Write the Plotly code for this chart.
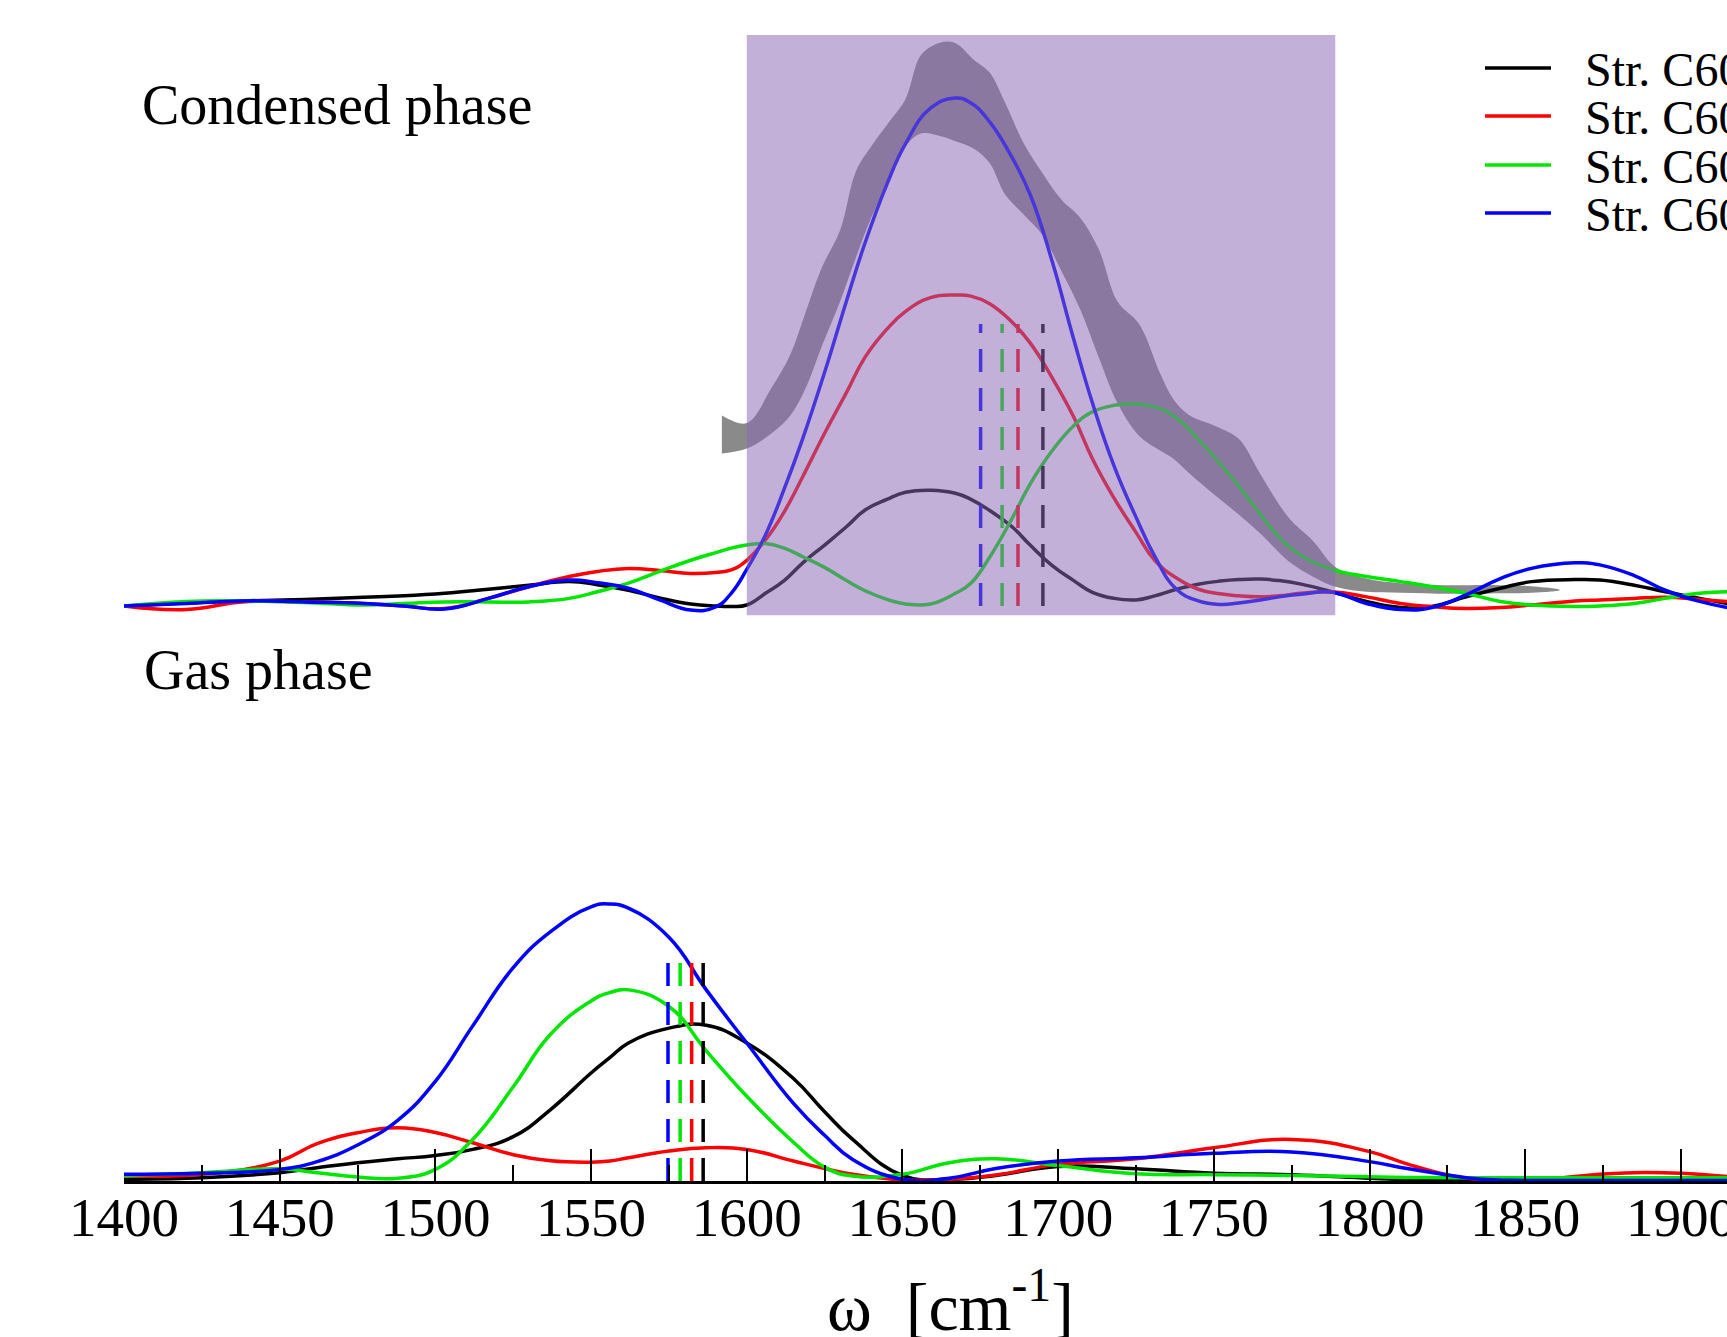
import plotly.graph_objects as go

# ---------------- data ----------------
series_names = ["Str. C60", "Str. C60", "Str. C60", "Str. C60"]
series_colors = ["#000000", "#ff0000", "#00e600", "#0000ff"]

# Gas phase (bottom panel)
gas_x = [1400, 1425, 1450, 1462, 1475, 1488, 1500, 1512, 1525, 1537, 1550, 1556, 1562, 1575,
         1587, 1600, 1615, 1625, 1634, 1650, 1665, 1680, 1700, 1725, 1750, 1775, 1800, 1812,
         1825, 1835, 1850, 1862, 1875, 1888, 1900, 1915]
gas_black = [0.006, 0.012, 0.030, 0.048, 0.066, 0.080, 0.092, 0.114, 0.160, 0.258, 0.390, 0.445,
             0.498, 0.552, 0.562, 0.498, 0.370, 0.250, 0.150, 0.020, 0.006, 0.020, 0.052, 0.044,
             0.028, 0.023, 0.010, 0.005, 0.003, 0.002, 0.002, 0.002, 0.002, 0.002, 0.002, 0.002]
gas_red = [0.020, 0.024, 0.072, 0.135, 0.174, 0.192, 0.175, 0.138, 0.095, 0.073, 0.068, 0.072,
           0.084, 0.108, 0.120, 0.114, 0.072, 0.045, 0.024, 0.004, 0.006, 0.022, 0.060, 0.080,
           0.120, 0.150, 0.106, 0.062, 0.022, 0.005, 0.000, 0.012, 0.025, 0.031, 0.028, 0.016]
gas_green = [0.020, 0.030, 0.044, 0.030, 0.014, 0.010, 0.042, 0.150, 0.340, 0.530, 0.650, 0.680,
             0.690, 0.630, 0.470, 0.306, 0.140, 0.050, 0.018, 0.024, 0.066, 0.080, 0.056, 0.026,
             0.023, 0.020, 0.015, 0.013, 0.012, 0.012, 0.012, 0.012, 0.012, 0.012, 0.012, 0.012]
gas_blue = [0.024, 0.028, 0.042, 0.070, 0.130, 0.220, 0.360, 0.560, 0.770, 0.900, 0.990, 1.000,
            0.985, 0.880, 0.690, 0.498, 0.280, 0.165, 0.078, 0.006, 0.010, 0.045, 0.072, 0.084,
            0.100, 0.105, 0.070, 0.045, 0.022, 0.007, 0.002, 0.002, 0.002, 0.002, 0.002, 0.002]
gas_peaks = [1586.0, 1582.3, 1578.6, 1574.7]       # black, red, green, blue
gas_peak_height = 0.794

# Condensed phase (top panel)
cond_x = [1400, 1420, 1438, 1458, 1477, 1490, 1503, 1517, 1530, 1543, 1552, 1562, 1572, 1582,
          1590, 1595, 1600, 1606, 1612, 1618, 1625, 1632, 1638, 1645, 1651, 1659, 1667, 1672,
          1678, 1685, 1691, 1698, 1705, 1711, 1718, 1725, 1731, 1738, 1745, 1752, 1758, 1765,
          1771, 1778, 1788, 1799, 1810, 1820, 1831, 1842, 1852, 1866, 1874, 1885, 1895, 1906, 1915]
cond_black = [0.000, 0.006, 0.010, 0.013, 0.017, 0.020, 0.025, 0.033, 0.041, 0.048, 0.042, 0.031,
              0.016, 0.004, 0.000, -0.001, 0.002, 0.025, 0.050, 0.085, 0.120, 0.156, 0.189, 0.210,
              0.224, 0.228, 0.222, 0.210, 0.188, 0.157, 0.120, 0.080, 0.050, 0.027, 0.015, 0.012,
              0.020, 0.033, 0.043, 0.049, 0.052, 0.053, 0.050, 0.043, 0.028, 0.009, -0.003, -0.001,
              0.018, 0.035, 0.048, 0.052, 0.051, 0.041, 0.028, 0.015, 0.005]
cond_red = [0.000, -0.007, 0.008, 0.008, 0.005, 0.000, -0.005, 0.015, 0.038, 0.058, 0.068, 0.074,
            0.070, 0.064, 0.066, 0.071, 0.090, 0.130, 0.185, 0.255, 0.340, 0.420, 0.490, 0.545,
            0.580, 0.607, 0.612, 0.610, 0.595, 0.560, 0.518, 0.450, 0.372, 0.290, 0.212, 0.145,
            0.090, 0.055, 0.033, 0.024, 0.020, 0.018, 0.020, 0.025, 0.028, 0.018, 0.005, -0.001,
            -0.005, -0.003, 0.002, 0.010, 0.012, 0.015, 0.017, 0.013, 0.009]
cond_green = [0.000, 0.009, 0.010, 0.007, 0.002, 0.005, 0.008, 0.008, 0.008, 0.015, 0.028, 0.045,
              0.068, 0.090, 0.105, 0.114, 0.120, 0.123, 0.114, 0.097, 0.076, 0.050, 0.030, 0.013,
              0.004, 0.004, 0.025, 0.045, 0.096, 0.170, 0.240, 0.305, 0.355, 0.382, 0.395, 0.398,
              0.392, 0.370, 0.328, 0.280, 0.236, 0.180, 0.135, 0.100, 0.072, 0.058, 0.048, 0.038,
              0.025, 0.009, 0.002, -0.001, 0.000, 0.005, 0.015, 0.025, 0.028]
cond_blue = [0.000, 0.005, 0.010, 0.008, 0.005, 0.000, -0.006, 0.015, 0.038, 0.051, 0.046, 0.035,
             0.012, -0.008, -0.002, 0.025, 0.072, 0.140, 0.230, 0.330, 0.460, 0.600, 0.715, 0.830,
             0.910, 0.980, 1.000, 0.990, 0.953, 0.885, 0.810, 0.680, 0.525, 0.400, 0.275, 0.175,
             0.098, 0.033, 0.010, 0.003, 0.006, 0.012, 0.018, 0.023, 0.027, 0.005, -0.007, -0.003,
             0.022, 0.054, 0.074, 0.085, 0.081, 0.060, 0.031, 0.009, -0.003]
cond_peaks = [1695.1, 1687.1, 1682.0, 1675.1]      # black, red, green, blue
cond_peak_height = 0.555

# experimental band (condensed phase)
band_x = [1592, 1600, 1608, 1614, 1619, 1624, 1630, 1635, 1640, 1646, 1651, 1656, 1662, 1667,
          1673, 1678, 1683, 1689, 1695, 1701, 1707, 1713, 1719, 1726, 1733, 1737, 1742, 1751,
          1758, 1765, 1774, 1782, 1789, 1799, 1810, 1826, 1842, 1852, 1861]
band_upper = [0.375, 0.360, 0.430, 0.495, 0.580, 0.665, 0.740, 0.855, 0.905, 0.955, 0.998, 1.085,
              1.109, 1.108, 1.075, 1.050, 0.990, 0.910, 0.852, 0.800, 0.765, 0.703, 0.600, 0.555,
              0.454, 0.407, 0.376, 0.353, 0.329, 0.259, 0.174, 0.127, 0.077, 0.054, 0.045, 0.041,
              0.041, 0.039, 0.032]
band_lower = [0.300, 0.310, 0.340, 0.375, 0.430, 0.510, 0.600, 0.685, 0.765, 0.840, 0.905, 0.930,
              0.925, 0.915, 0.900, 0.872, 0.810, 0.770, 0.730, 0.660, 0.585, 0.490, 0.400, 0.335,
              0.305, 0.290, 0.262, 0.215, 0.180, 0.142, 0.088, 0.057, 0.038, 0.028, 0.026, 0.024,
              0.025, 0.026, 0.031]
highlight_x = [1600, 1789]
highlight_y = [-0.018, 1.124]

x_ticks = [1400, 1450, 1500, 1550, 1600, 1650, 1700, 1750, 1800, 1850, 1900]
x_range = [1400, 1914.8]

# ---------------- figure ----------------
W, H = 1727, 1337
ML, MR, MT, MB = 124, 0, 0, 156
PW, PH = W - ML - MR, H - MT - MB
SERIF = "Liberation Serif, Times New Roman, serif"
LW = 3.5
SMOOTH = 1.3


def px_x(px):
    return (px - ML) / PW


def px_y(py):
    return (H - MB - py) / PH


fig = go.Figure()

# experimental band
fig.add_trace(go.Scatter(
    x=band_x + band_x[::-1], y=band_upper + band_lower[::-1],
    fill="toself", fillcolor="#8a8a8a", line=dict(width=0, shape="spline", smoothing=1.0),
    mode="lines", yaxis="y2", hoverinfo="skip", showlegend=False))

gas_series = [gas_black, gas_red, gas_green, gas_blue]
cond_series = [cond_black, cond_red, cond_green, cond_blue]

for name, col, ys in zip(series_names, series_colors, cond_series):
    fig.add_trace(go.Scatter(x=cond_x, y=ys, mode="lines", yaxis="y2", name=name,
                             line=dict(color=col, width=LW, shape="spline", smoothing=SMOOTH),
                             showlegend=False))
for name, col, ys in zip(series_names, series_colors, gas_series):
    fig.add_trace(go.Scatter(x=gas_x, y=ys, mode="lines", yaxis="y", name=name,
                             line=dict(color=col, width=LW, shape="spline", smoothing=SMOOTH),
                             showlegend=False))

# dashed peak markers
for col, xp in zip(series_colors, cond_peaks):
    fig.add_trace(go.Scatter(x=[xp, xp], y=[0, cond_peak_height], mode="lines", yaxis="y2",
                             line=dict(color=col, width=LW, dash="23px,16px"), showlegend=False))
for col, xp in zip(series_colors, gas_peaks):
    fig.add_trace(go.Scatter(x=[xp, xp], y=[0, gas_peak_height], mode="lines", yaxis="y",
                             line=dict(color=col, width=LW, dash="23px,16px"), showlegend=False))

shapes = [dict(type="rect", xref="x", yref="y2", x0=highlight_x[0], x1=highlight_x[1],
               y0=highlight_y[0], y1=highlight_y[1], fillcolor="rgba(140,103,182,0.52)",
               line=dict(width=0), layer="above")]

annotations = [
    dict(text="Condensed phase", xref="paper", yref="paper", x=px_x(140), y=px_y(105),
         xanchor="left", yanchor="middle", showarrow=False,
         font=dict(family=SERIF, size=56, color="black")),
    dict(text="Gas phase", xref="paper", yref="paper", x=px_x(142), y=px_y(670),
         xanchor="left", yanchor="middle", showarrow=False,
         font=dict(family=SERIF, size=56, color="black")),
    dict(text="ω  [cm<sup>-1</sup>]", xref="paper", yref="paper", x=px_x(950), y=px_y(1302),
         xanchor="center", yanchor="middle", showarrow=False,
         font=dict(family=SERIF, size=68, color="black")),
]

# legend (drawn manually to match the long sample lines)
legend_rows = [68, 116, 165, 213]
for col, name, ry in zip(series_colors, series_names, legend_rows):
    shapes.append(dict(type="line", xref="paper", yref="paper", x0=px_x(1485), x1=px_x(1551),
                       y0=px_y(ry), y1=px_y(ry), line=dict(color=col, width=LW)))
    annotations.append(dict(text=name, xref="paper", yref="paper", x=px_x(1583), y=px_y(ry + 1),
                            xanchor="left", yanchor="middle", showarrow=False,
                            font=dict(family=SERIF, size=48, color="black")))

fig.update_layout(
    template="none",
    width=W, height=H,
    margin=dict(l=ML, r=MR, t=MT, b=MB, pad=0),
    paper_bgcolor="white", plot_bgcolor="white",
    showlegend=False,
    shapes=shapes, annotations=annotations,
    xaxis=dict(range=x_range, tickmode="array", tickvals=x_ticks,
               ticktext=[str(t) for t in x_ticks],
               ticks="inside", ticklen=32, tickwidth=2, tickcolor="black",
               minor=dict(ticks="inside", ticklen=16, tickwidth=2, tickcolor="black",
                          dtick=25, tick0=1400, showgrid=False),
               showline=True, linewidth=3, linecolor="black", mirror=False,
               showgrid=False, zeroline=False, automargin=False,
               ticklabeloverflow="allow", ticklabelstandoff=-14,
               tickfont=dict(family=SERIF, size=55, color="black"), anchor="y"),
    yaxis=dict(domain=[0, 0.38], range=[0, 0.38 * PH / 277], visible=False,
               showgrid=False, zeroline=False, automargin=False),
    yaxis2=dict(domain=[0.40, 1.0], range=[-(0.6 * PH - 606) / 508, 606 / 508], visible=False,
                showgrid=False, zeroline=False, automargin=False, anchor="x"),
)

fig.write_html("out.html")
